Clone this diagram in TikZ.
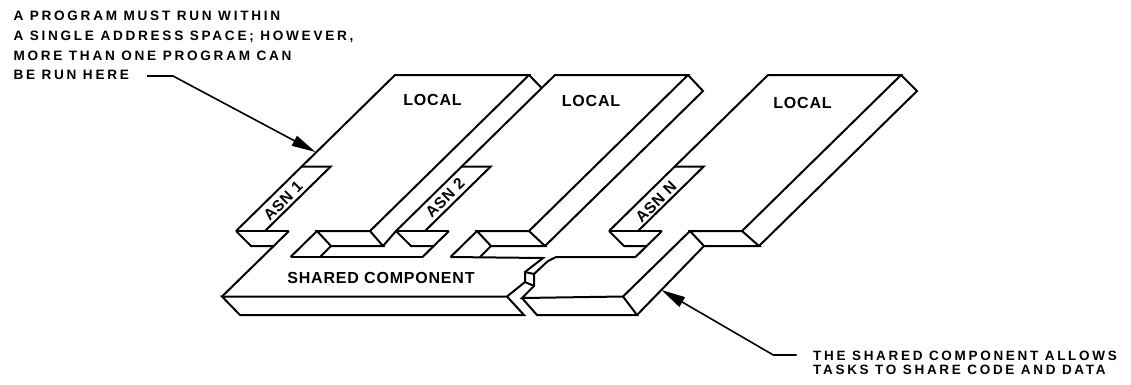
\documentclass[tikz,border=0pt]{standalone}
\usepackage{fontspec}
\setmainfont{Liberation Sans}
\newfontfamily\notefont{Liberation Sans}[LetterSpace=20]
\newfontfamily\labfont{Liberation Sans}[LetterSpace=5]
\usetikzlibrary{arrows.meta}
\begin{document}
\begin{tikzpicture}[x=1pt,y=-1pt,
  edge/.style={line width=2pt,line join=miter},
  leader/.style={line width=1.6pt},
  ptr/.style={leader,-{Triangle[length=24pt,width=11pt]}},
  note/.style={anchor=base west,inner sep=0pt,font=\notefont\bfseries\fontsize{13.6}{15}\selectfont},
  note2/.style={anchor=base west,inner sep=0pt,font=\notefont\bfseries\fontsize{13.5}{15}\selectfont},
  lab/.style={inner sep=0pt,font=\labfont\bfseries\fontsize{16}{18}\selectfont},
  asn/.style={inner sep=0pt,rotate=45,font=\labfont\bfseries\fontsize{15.5}{17}\selectfont}]
\useasboundingbox (0,0) rectangle (1131,384);

% ---------- address space 1 ----------
\draw[edge] (236,231) -- (395,75) -- (529,75) -- (370,231);
\draw[edge] (529,75) -- (541.7,88);
\draw[edge] (301.5,166.7) -- (330.5,166.7) -- (265,231);
% tab A1
\draw[edge] (236,231) -- (289,231);
\draw[edge] (236,231) -- (251,246) -- (274,246);
\draw[edge] (289,231) -- (222,296.5);
% tab B1
\draw[edge] (317,231) -- (370,231) -- (383,246) -- (331,246) -- cycle;
\draw[edge] (317,231) -- (290.5,257);
\draw[edge] (331,246) -- (320,257);

% ---------- address space 2 ----------
\draw[edge] (383,246) -- (396,231) -- (555,75) -- (688,75) -- (529,231);
\draw[edge] (688,75) -- (703,91) -- (545,246);
\draw[edge] (461.5,166.7) -- (490.5,166.7) -- (425,231);
% tab A2
\draw[edge] (396,231) -- (449,231);
\draw[edge] (396,231) -- (411,246) -- (434,246);
\draw[edge] (449,231) -- (422.5,257);
% tab B2
\draw[edge] (477,231) -- (529,231) -- (545,246) -- (491,246) -- cycle;
\draw[edge] (477,231) -- (450.5,257);
\draw[edge] (491,246) -- (480,257);

% ---------- address space 3 ----------
\draw[edge] (609,231) -- (768,75) -- (901,75) -- (742,231);
\draw[edge] (901,75) -- (917,91) -- (759,246);
\draw[edge] (674.5,166.7) -- (703.5,166.7) -- (638,231);
% tab A3
\draw[edge] (609,231) -- (662,231);
\draw[edge] (609,231) -- (624,246) -- (647,246);
\draw[edge] (662,231) -- (635.5,257);
% tab B3
\draw[edge] (690,231) -- (742,231) -- (759,246) -- (704,246) -- cycle;
\draw[edge] (690,231) -- (623,296.5);
\draw[edge] (704,246) -- (637,315);

% ---------- shared component, left piece ----------
\draw[edge] (290.5,257) -- (422.5,257);
\draw[edge] (450.5,257) -- (543,258) -- (525,272) -- (525,282) -- (507,296.5) -- (222,296.5) -- (240,315) -- (524,315) -- (507,296.5);
% ---------- shared component, right piece ----------
\draw[edge] (635.5,257) -- (556,257) -- (548,261) -- (534,274) -- (534,286) -- (522,298) -- (623,296.5) -- (637,315) -- (537,315) -- (522,298);
\draw[edge] (525,272) -- (534,274);
\draw[edge] (525,282) -- (534,286);

% ---------- labels ----------
\node[lab] (loc1) at (432.5,99.7) {LOCAL};
\node[lab] (loc2) at (591,101) {LOCAL};
\node[lab] (loc3) at (802.5,103) {LOCAL};
\node[lab] (shared) at (381,277.5) {SHARED COMPONENT};
\node[asn] (asn1) at (283,201) {ASN 1};
\node[asn] (asn2) at (445,198) {ASN 2};
\node[asn] (asnn) at (656,202) {ASN N};

% ---------- annotations ----------
\node[note] (n1) at (13.3,20.7) {A PROGRAM MUST RUN WITHIN};
\node[note] (n2) at (13.3,40.4) {A SINGLE ADDRESS SPACE; HOWEVER,};
\node[note] (n3) at (13.3,60.1) {MORE THAN ONE PROGRAM CAN};
\node[note] (n4) at (13.3,79.5) {BE RUN HERE};
\coordinate (c1a) at (147,76);
\coordinate (c1b) at (173,76);
\coordinate (tip1) at (315.5,152);
\draw[ptr] (c1a) -- (c1b) -- (tip1);

\node[note2] (m1) at (813,360) {THE SHARED COMPONENT ALLOWS};
\node[note2] (m2) at (813,374) {TASKS TO SHARE CODE AND DATA};
\coordinate (c2a) at (796.7,355);
\coordinate (c2b) at (773.3,355);
\coordinate (tip2) at (661.5,290);
\draw[ptr] (c2a) -- (c2b) -- (tip2);
\end{tikzpicture}
\end{document}
